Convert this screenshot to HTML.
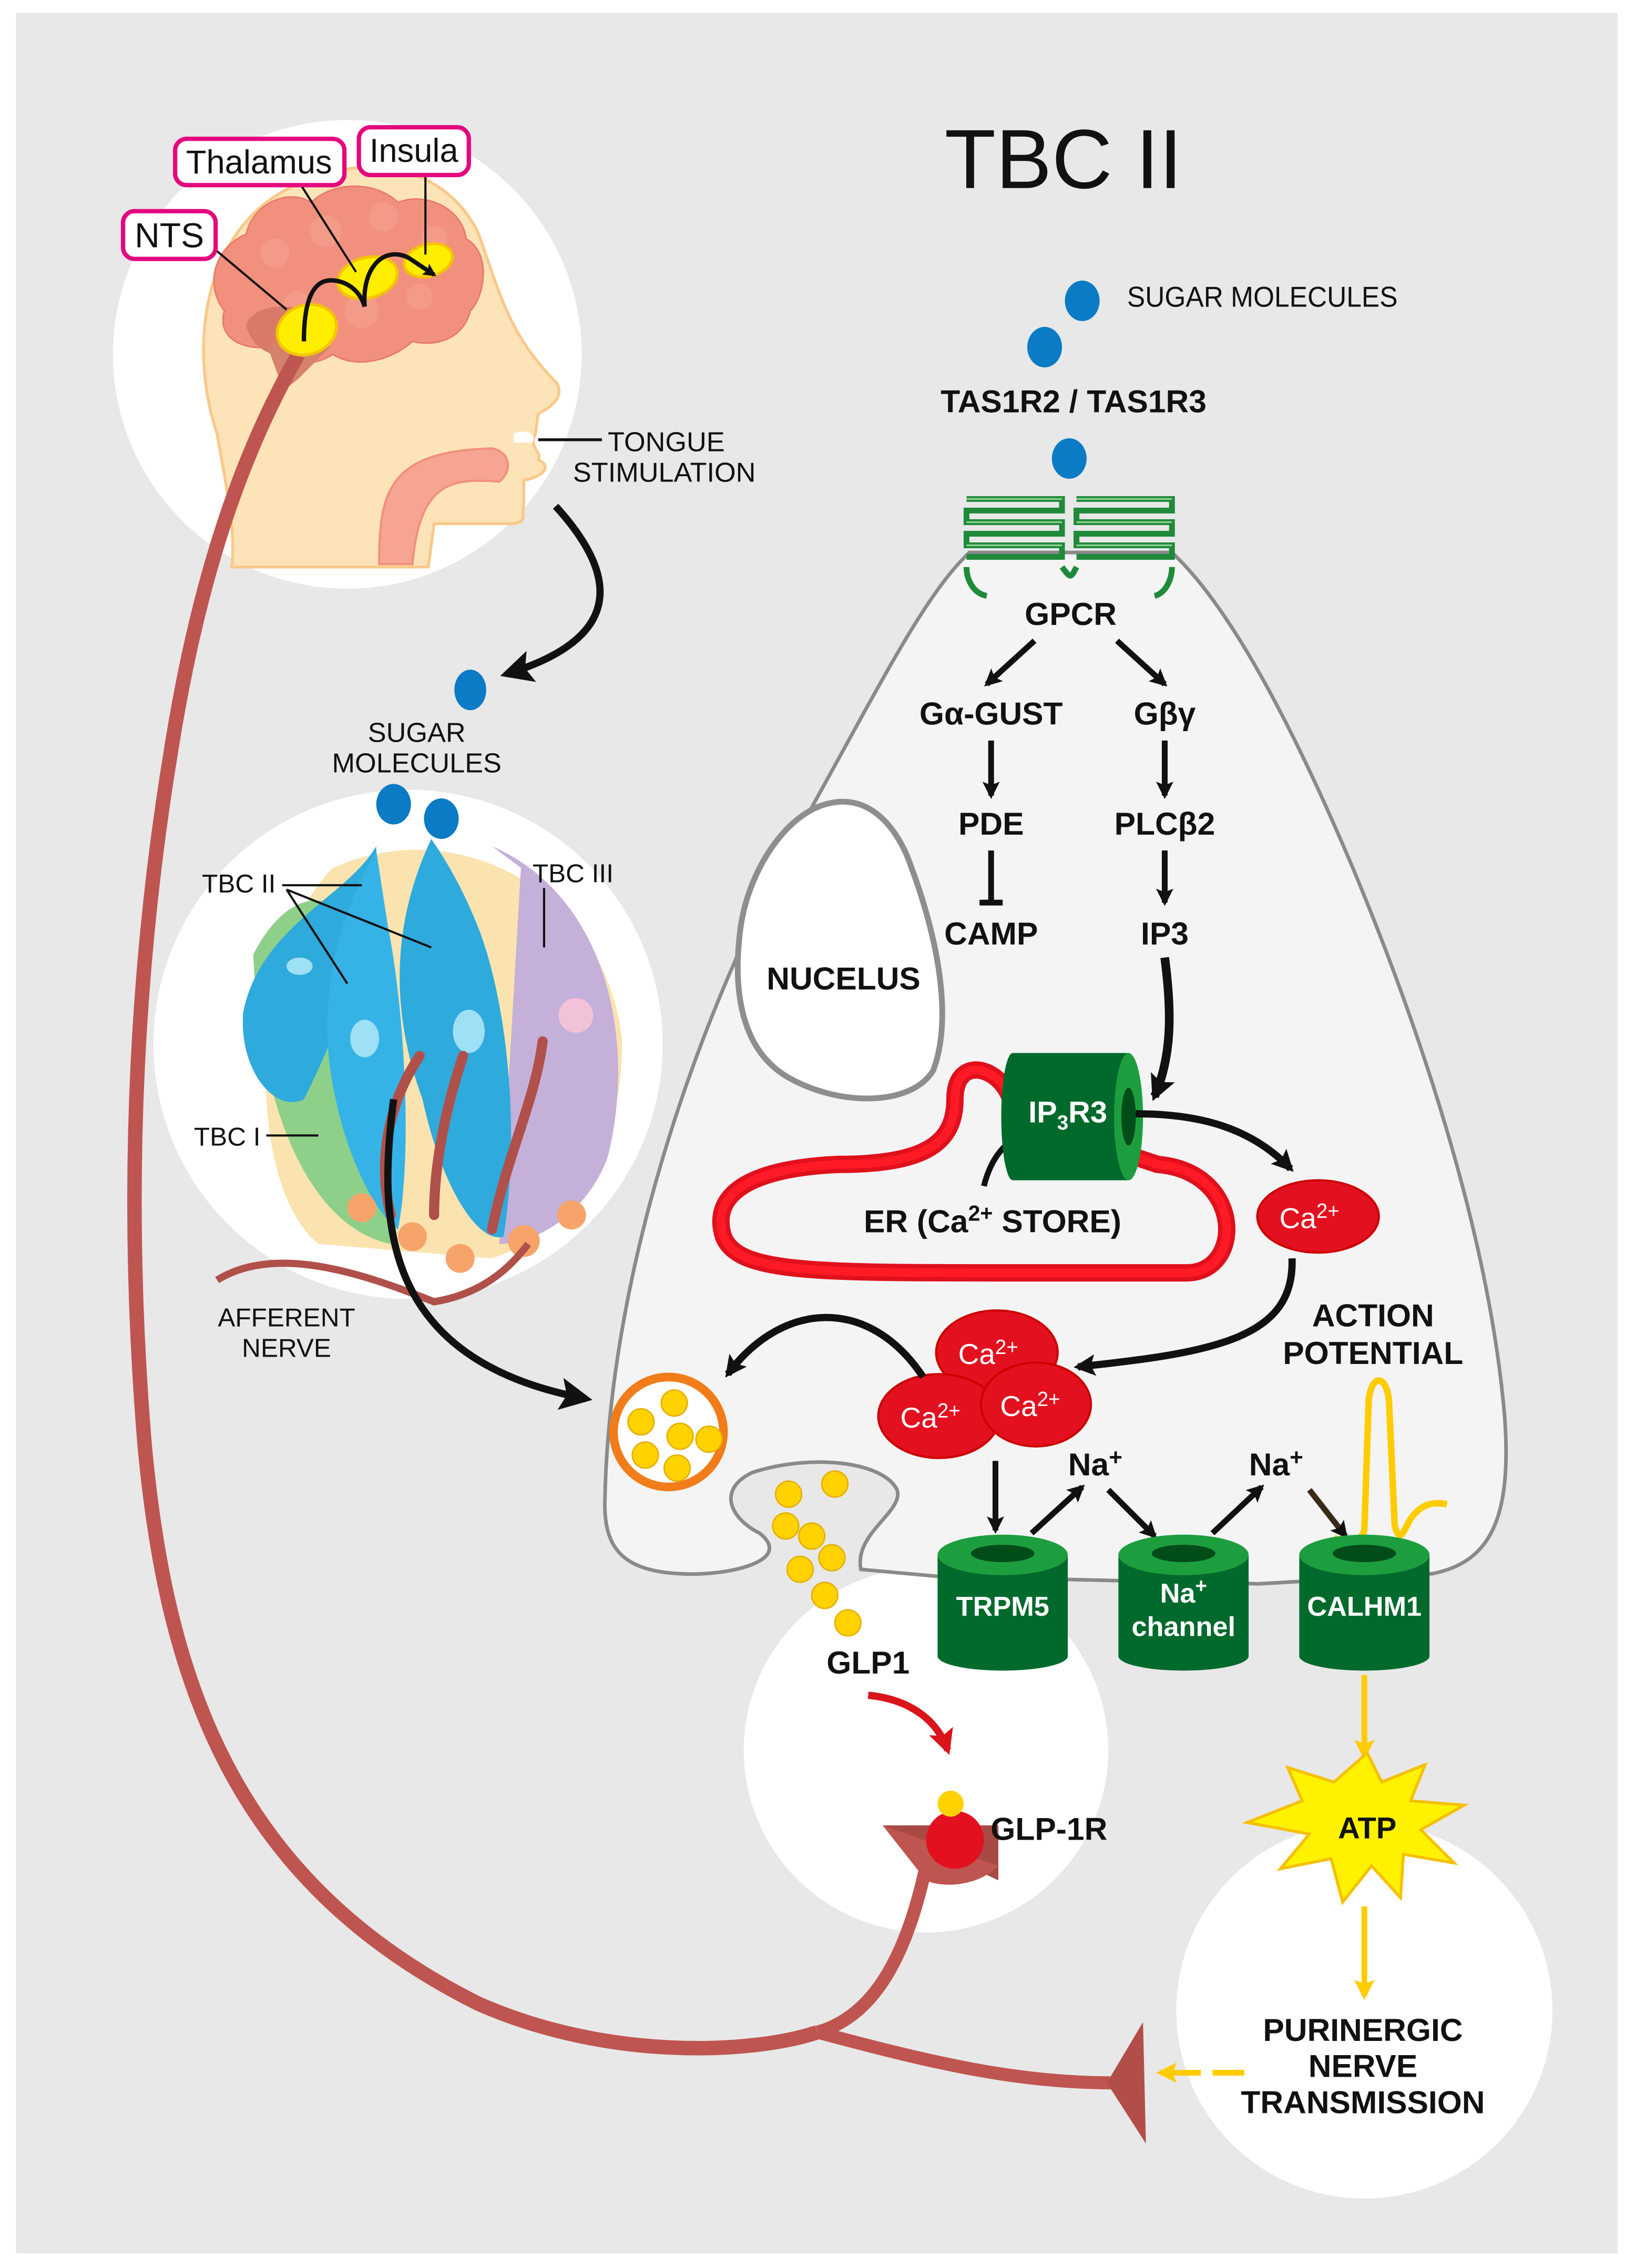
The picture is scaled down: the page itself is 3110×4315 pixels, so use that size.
<!DOCTYPE html>
<html><head><meta charset="utf-8"><style>
html,body{margin:0;padding:0;background:#fff}
svg{display:block}
text{font-family:"Liberation Sans",sans-serif}
</style></head><body>
<svg width="3110" height="4315" viewBox="0 0 1130 1568" xmlns="http://www.w3.org/2000/svg">
<defs>
<marker id="ah" viewBox="0 0 10 10" refX="8" refY="5" markerWidth="4.5" markerHeight="4.5" orient="auto"><path d="M0,0L10,5L0,10L2,5z" fill="#111"/></marker>
<marker id="ahb" viewBox="0 0 10 10" refX="8" refY="5" markerWidth="3" markerHeight="3" orient="auto"><path d="M0,0L10,5L0,10L2,5z" fill="#111"/></marker>
<marker id="ahy" viewBox="0 0 10 10" refX="8" refY="5" markerWidth="3.5" markerHeight="3.5" orient="auto"><path d="M0,0L10,5L0,10L2,5z" fill="#ffcc00"/></marker>
<marker id="ahr" viewBox="0 0 10 10" refX="8" refY="5" markerWidth="3.5" markerHeight="3.5" orient="auto"><path d="M0,0L10,5L0,10L2,5z" fill="#d9141b"/></marker>
</defs>
<rect width="1130" height="1568" fill="#fff"/>
<rect x="11" y="9" width="1107" height="1549" fill="#e8e8e8"/>

<circle cx="240" cy="245" r="162" fill="#fff"/>
<circle cx="282" cy="722" r="176" fill="#fff"/>
<circle cx="640" cy="1210" r="126" fill="#fff"/>
<circle cx="943" cy="1390" r="130" fill="#fff"/>

<path d="M150,300 C130,240 140,160 200,130 C260,100 310,120 330,160 C345,200 350,230 385,265 C390,275 380,282 372,286 L370,300 C365,310 375,312 372,318 C382,322 375,330 362,332 L362,348 C360,358 365,360 355,362 L300,362 L296,392 L160,392 C163,370 158,345 150,300 Z" fill="#fde3b8" stroke="#f9c98a" stroke-width="2"/>
<path d="M262,390 C262,340 268,312 340,310 C352,312 355,325 345,333 C310,330 290,335 285,390 Z" fill="#f6a592" stroke="#f0907c" stroke-width="1.5"/>
<path d="M355,300 C362,296 372,300 368,306 L355,306 Z" fill="#fff"/>
<path d="M155,215 C140,195 150,170 170,162 C175,140 200,130 215,140 C230,125 260,125 275,140 C295,132 320,145 322,165 C340,175 335,205 325,215 C320,235 300,240 285,236 C270,250 245,255 230,245 C215,255 195,252 185,240 C165,242 150,232 155,215 Z" fill="#f2907e" stroke="#e7796a" stroke-width="1"/>
<g fill="#f49d8b" opacity="0.8"><circle cx="190" cy="175" r="10"/><circle cx="225" cy="160" r="11"/><circle cx="265" cy="150" r="10"/><circle cx="300" cy="165" r="9"/><circle cx="250" cy="215" r="12"/><circle cx="290" cy="205" r="9"/><circle cx="205" cy="210" r="9"/></g>
<path d="M170,225 C175,210 200,210 215,215 L215,245 C195,250 175,245 170,225 Z" fill="#d87a68"/>
<path d="M185,240 L210,228 L228,240 L206,262 L196,270 Z" fill="#d4826b"/>
<path d="M206,245 C175,300 140,380 118,520 C95,660 85,820 100,1000 C115,1160 160,1300 330,1385 C420,1425 520,1420 565,1405" fill="none" stroke="#bf5550" stroke-width="10"/>
<path d="M565,1405 C600,1395 625,1360 640,1290" fill="none" stroke="#bf5550" stroke-width="9"/>
<path d="M565,1405 C640,1425 700,1440 770,1440" fill="none" stroke="#bf5550" stroke-width="9"/>
<path d="M610,1262 L690,1262 L690,1300 Z" fill="#a84a44"/>
<path d="M610,1262 L690,1290 C675,1305 650,1305 640,1300 Z" fill="#bf5550"/>
<path d="M765,1440 L790,1398 L792,1482 Z" fill="#b24e49"/>
<ellipse cx="212" cy="228" rx="21" ry="17" fill="#ffee00" stroke="#f5c400" stroke-width="2" transform="rotate(-20 212 228)"/>
<ellipse cx="254" cy="192" rx="21" ry="14" fill="#ffee00" stroke="#f5c400" stroke-width="2" transform="rotate(-15 254 192)"/>
<ellipse cx="296" cy="180" rx="17" ry="11" fill="#ffee00" stroke="#f5c400" stroke-width="2" transform="rotate(-15 296 180)"/>
<path d="M210,236 C210,200 220,190 236,195 C245,198 250,205 252,212" fill="none" stroke="#111" stroke-width="3"/>
<path d="M252,212 C250,185 265,170 282,178 L300,190" fill="none" stroke="#111" stroke-width="3" marker-end="url(#ahb)"/>
<line x1="148" y1="172" x2="198" y2="214" stroke="#111" stroke-width="1.5"/>
<line x1="208" y1="128" x2="246" y2="188" stroke="#111" stroke-width="1.5"/>
<line x1="294" y1="122" x2="294" y2="176" stroke="#111" stroke-width="1.5"/>
<rect x="85" y="146" width="64" height="33" rx="8" fill="#fff" stroke="#e3087e" stroke-width="3"/>
<text x="117" y="171" font-size="24" text-anchor="middle" fill="#111">NTS</text>
<rect x="121" y="96" width="117" height="32" rx="8" fill="#fff" stroke="#e3087e" stroke-width="3"/>
<text x="179" y="120" font-size="23" text-anchor="middle" fill="#111">Thalamus</text>
<rect x="248" y="88" width="76" height="33" rx="8" fill="#fff" stroke="#e3087e" stroke-width="3"/>
<text x="286" y="112" font-size="23" text-anchor="middle" fill="#111">Insula</text>

<text x="735" y="130" font-size="58" text-anchor="middle" fill="#111">TBC II</text>

<line x1="372" y1="304" x2="416" y2="304" stroke="#111" stroke-width="2"/>
<text x="420" y="312" font-size="19" fill="#111">TONGUE</text>
<text x="396" y="333" font-size="19" fill="#111">STIMULATION</text>
<path d="M384,350 C425,395 435,440 350,466" fill="none" stroke="#111" stroke-width="5" marker-end="url(#ah)"/>
<ellipse cx="325" cy="477" rx="11" ry="14" fill="#0a7bc4"/>
<text x="288" y="513" font-size="19" text-anchor="middle" fill="#111">SUGAR</text>
<text x="288" y="534" font-size="19" text-anchor="middle" fill="#111">MOLECULES</text>
<ellipse cx="272" cy="556" rx="12" ry="14" fill="#0a7bc4"/>
<ellipse cx="305" cy="566" rx="12" ry="14" fill="#0a7bc4"/>

<path d="M230,600 C320,560 420,620 430,720 C430,790 400,850 340,870 L220,860 C170,820 170,660 230,600 Z" fill="#fbe3b0"/>
<path d="M340,585 C420,620 440,720 420,800 C405,840 370,860 345,860 L360,600 Z" fill="#c4b0d8"/>
<circle cx="398" cy="702" r="12" fill="#f2c2d8"/>
<path d="M175,660 C200,610 240,610 250,660 L270,860 C220,850 180,780 175,660 Z" fill="#8ed08a"/>
<circle cx="202" cy="750" r="11" fill="#e8f0c0"/>
<path d="M260,585 C240,620 180,640 168,700 C165,740 190,770 210,760 C240,700 260,640 260,585 Z" fill="#2eaadc"/>
<path d="M260,588 C230,640 218,700 232,760 C240,800 260,840 275,850 C285,800 280,700 268,640 Z" fill="#36b3e6"/>
<path d="M298,580 C270,640 270,700 292,760 C305,820 330,860 348,855 C360,780 350,690 330,640 C318,610 305,590 298,580 Z" fill="#2eaadc"/>
<ellipse cx="207" cy="668" rx="9" ry="6" fill="#9ee0f5"/>
<ellipse cx="252" cy="718" rx="10" ry="13" fill="#9ee0f5"/>
<ellipse cx="324" cy="713" rx="11" ry="15" fill="#9ee0f5"/>
<g fill="none" stroke="#b0504a" stroke-width="7" stroke-linecap="round">
<path d="M270,840 C260,800 270,760 290,730"/>
<path d="M300,840 C300,800 310,760 320,730"/>
<path d="M340,850 C350,800 370,760 375,720"/>
</g>
<g fill="#f7a46a"><circle cx="250" cy="835" r="10"/><circle cx="285" cy="855" r="10"/><circle cx="318" cy="870" r="10"/><circle cx="362" cy="858" r="11"/><circle cx="395" cy="840" r="10"/></g>
<path d="M150,885 C190,860 250,880 300,900 C330,895 350,880 365,860" fill="none" stroke="#b0504a" stroke-width="5"/>
<line x1="198" y1="615" x2="240" y2="680" stroke="#111" stroke-width="1.5"/>
<line x1="198" y1="615" x2="298" y2="655" stroke="#111" stroke-width="1.5"/>
<line x1="195" y1="612" x2="250" y2="612" stroke="#111" stroke-width="1.5"/>
<line x1="376" y1="614" x2="376" y2="655" stroke="#111" stroke-width="1.5"/>
<line x1="184" y1="785" x2="220" y2="785" stroke="#111" stroke-width="1.5"/>
<text x="165" y="617" font-size="18" text-anchor="middle" fill="#111">TBC II</text>
<text x="396" y="610" font-size="18" text-anchor="middle" fill="#111">TBC III</text>
<text x="157" y="792" font-size="18" text-anchor="middle" fill="#111">TBC I</text>
<text x="198" y="917" font-size="18" text-anchor="middle" fill="#111">AFFERENT</text>
<text x="198" y="938" font-size="18" text-anchor="middle" fill="#111">NERVE</text>
<path d="M272,760 C262,840 260,940 405,967" fill="none" stroke="#111" stroke-width="5" marker-end="url(#ah)"/>

<path d="M418,1040 C420,900 470,720 560,560 C610,470 640,410 670,382 L810,382 C840,410 880,470 935,600 C985,720 1030,860 1040,980 C1045,1050 1030,1080 990,1088 L870,1095 L650,1090 L595,1085 C590,1060 625,1045 620,1030 C610,1010 560,1005 520,1018 C495,1030 505,1050 525,1060 C550,1080 500,1090 470,1088 C430,1086 418,1070 418,1040 Z" fill="#f4f4f4" stroke="#8a8a8a" stroke-width="2.5"/>

<g fill="none" stroke="#1e8a3a" stroke-width="4">
<path d="M668,345 H734 V353 H668 V361 H734 V369 H668 V377 H734 V385 H668 M668,392 C668,400 672,410 682,412"/>
<path d="M744,345 H810 V353 H744 V361 H810 V369 H744 V377 H810 V385 H744 M810,392 C810,400 806,410 798,412"/>
<path d="M734,392 C740,400 740,400 744,392"/>
</g>
<g fill="none" stroke="#8fd18f" stroke-width="1.2">
<path d="M668,345 H734 M668,361 H734 M668,377 H734 M744,345 H810 M744,361 H810 M744,377 H810"/>
</g>
<ellipse cx="748" cy="208" rx="12" ry="14" fill="#0a7bc4"/>
<ellipse cx="722" cy="240" rx="12" ry="14" fill="#0a7bc4"/>
<ellipse cx="739" cy="317" rx="12" ry="14" fill="#0a7bc4"/>
<text x="779" y="212" font-size="20" fill="#111" textLength="187" lengthAdjust="spacingAndGlyphs">SUGAR MOLECULES</text>

<path d="M575,555 C600,550 620,570 630,600 C645,640 660,700 645,740 C630,765 580,765 545,745 C515,728 505,690 512,640 C518,600 545,560 575,555 Z" fill="#fff" stroke="#8e8e8e" stroke-width="4"/>

<g font-size="22" font-weight="bold" text-anchor="middle" fill="#111">
<text x="742" y="285">TAS1R2 / TAS1R3</text>
<text x="740" y="432">GPCR</text>
<text x="685" y="501">Gα-GUST</text>
<text x="805" y="501">Gβγ</text>
<text x="685" y="577">PDE</text>
<text x="805" y="577">PLCβ2</text>
<text x="685" y="653">CAMP</text>
<text x="805" y="653">IP3</text>
<text x="583" y="684">NUCELUS</text>
<text x="686" y="852">ER (Ca<tspan font-size="15" dy="-8">2+</tspan><tspan dy="8"> STORE)</tspan></text>
<text x="949" y="917">ACTION</text>
<text x="949" y="943">POTENTIAL</text>
<text x="757" y="1020">Na<tspan font-size="16" dy="-7">+</tspan></text>
<text x="882" y="1020">Na<tspan font-size="16" dy="-7">+</tspan></text>
<text x="600" y="1157">GLP1</text>
<text x="725" y="1272">GLP-1R</text>
<text x="942" y="1411">PURINERGIC</text>
<text x="942" y="1436">NERVE</text>
<text x="942" y="1461">TRANSMISSION</text>
</g>
<g stroke="#111" stroke-width="4" fill="none">
<line x1="715" y1="443" x2="682" y2="473" marker-end="url(#ahb)"/>
<line x1="772" y1="443" x2="805" y2="473" marker-end="url(#ahb)"/>
<line x1="685" y1="512" x2="685" y2="550" marker-end="url(#ahb)"/>
<line x1="805" y1="512" x2="805" y2="550" marker-end="url(#ahb)"/>
<line x1="685" y1="588" x2="685" y2="624"/>
<line x1="677" y1="624" x2="693" y2="624"/>
<line x1="805" y1="588" x2="805" y2="624" marker-end="url(#ahb)"/>
<path d="M805,662 C810,700 810,730 798,758" stroke-width="6" marker-end="url(#ahb)"/>
</g>

<path d="M700,770 C700,740 660,725 660,760 C660,790 640,805 580,805 C510,808 492,830 500,855 C510,880 560,880 700,880 L820,880 C860,880 860,810 800,805 L785,800" fill="none" stroke="#e0101c" stroke-width="12"/>
<path d="M700,770 C700,740 660,725 660,760 C660,790 640,805 580,805 C510,808 492,830 500,855 C510,880 560,880 700,880 L820,880 C860,880 860,810 800,805 L785,800" fill="none" stroke="#ff1a25" stroke-width="6"/>
<path d="M680,820 C685,800 695,790 705,785" fill="none" stroke="#111" stroke-width="4"/>
<rect x="700" y="728" width="80" height="88" fill="#006a2c"/>
<ellipse cx="780" cy="772" rx="10" ry="44" fill="#1d9e3e"/>
<ellipse cx="780" cy="772" rx="5" ry="20" fill="#004d1a"/>
<ellipse cx="700" cy="772" rx="8" ry="44" fill="#006a2c"/>
<text x="738" y="776" font-size="21" font-weight="bold" fill="#fff" text-anchor="middle">IP<tspan font-size="14" dy="5">3</tspan><tspan dy="-5">R3</tspan></text>
<path d="M785,770 C830,770 865,780 892,808" fill="none" stroke="#111" stroke-width="5" marker-end="url(#ahb)"/>
<ellipse cx="911" cy="841" rx="42" ry="25" fill="#e3101f" stroke="#c00" stroke-width="1.5"/>
<text x="905" y="849" font-size="20" fill="#fff" text-anchor="middle">Ca<tspan font-size="14" dy="-7">2+</tspan></text>
<path d="M893,870 C895,925 840,935 745,945" fill="none" stroke="#111" stroke-width="5" marker-end="url(#ahb)"/>
<g fill="#e3101f" stroke="#c00" stroke-width="1.5">
<ellipse cx="689" cy="935" rx="42" ry="29"/>
<ellipse cx="649" cy="979" rx="42" ry="29"/>
<ellipse cx="716" cy="971" rx="38" ry="29"/>
</g>
<g font-size="20" fill="#fff" text-anchor="middle">
<text x="683" y="943">Ca<tspan font-size="14" dy="-7">2+</tspan></text>
<text x="643" y="987">Ca<tspan font-size="14" dy="-7">2+</tspan></text>
<text x="712" y="979">Ca<tspan font-size="14" dy="-7">2+</tspan></text>
</g>
<path d="M638,952 C600,895 540,900 503,950" fill="none" stroke="#111" stroke-width="5" marker-end="url(#ahb)"/>
<circle cx="462" cy="990" r="38" fill="#fff" stroke="#f07d1a" stroke-width="6"/>
<g fill="#ffd200" stroke="#e6b000"><circle cx="443" cy="983" r="9"/><circle cx="466" cy="970" r="9"/><circle cx="470" cy="993" r="9"/><circle cx="490" cy="995" r="9"/><circle cx="446" cy="1006" r="9"/><circle cx="468" cy="1015" r="9"/></g>
<g fill="#ffd200" stroke="#e6b000"><circle cx="545" cy="1033" r="9"/><circle cx="577" cy="1026" r="9"/><circle cx="543" cy="1055" r="9"/><circle cx="561" cy="1062" r="9"/><circle cx="575" cy="1077" r="9"/><circle cx="553" cy="1085" r="9"/><circle cx="570" cy="1103" r="9"/><circle cx="586" cy="1122" r="9"/></g>
<path d="M600,1172 C630,1175 648,1190 655,1210" fill="none" stroke="#d9141b" stroke-width="5" marker-end="url(#ahr)"/>
<circle cx="660" cy="1272" r="20" fill="#e3101f"/>
<circle cx="657" cy="1247" r="9" fill="#ffd200"/>

<g stroke="#111" stroke-width="4" fill="none">
<line x1="688" y1="1010" x2="688" y2="1058" marker-end="url(#ahb)"/>
<line x1="713" y1="1060" x2="748" y2="1028" marker-end="url(#ahb)"/>
<line x1="766" y1="1030" x2="798" y2="1062" marker-end="url(#ahb)"/>
<line x1="838" y1="1060" x2="872" y2="1028" marker-end="url(#ahb)"/>
<line x1="905" y1="1030" x2="930" y2="1062" stroke="#3a2a18" marker-end="url(#ahb)"/>
</g>
<path d="M922,1063 C930,1068 940,1068 943,1058 L946,968 C948,950 958,950 960,968 L964,1055 C968,1068 970,1058 975,1050 C982,1040 990,1038 1000,1040" fill="none" stroke="#ffcc00" stroke-width="4.5"/>

<g>
<rect x="648" y="1075" width="90" height="70" fill="#006a2c"/><ellipse cx="693" cy="1145" rx="45" ry="10" fill="#006a2c"/><ellipse cx="693" cy="1075" rx="45" ry="14" fill="#1d9e3e"/><ellipse cx="693" cy="1074" rx="22" ry="6" fill="#004d1a"/>
<rect x="773" y="1075" width="90" height="70" fill="#006a2c"/><ellipse cx="818" cy="1145" rx="45" ry="10" fill="#006a2c"/><ellipse cx="818" cy="1075" rx="45" ry="14" fill="#1d9e3e"/><ellipse cx="818" cy="1074" rx="22" ry="6" fill="#004d1a"/>
<rect x="898" y="1075" width="90" height="70" fill="#006a2c"/><ellipse cx="943" cy="1145" rx="45" ry="10" fill="#006a2c"/><ellipse cx="943" cy="1075" rx="45" ry="14" fill="#1d9e3e"/><ellipse cx="943" cy="1074" rx="22" ry="6" fill="#004d1a"/>
</g>
<g font-size="19" font-weight="bold" fill="#fff" text-anchor="middle">
<text x="693" y="1117">TRPM5</text>
<text x="818" y="1108">Na<tspan font-size="14" dy="-7">+</tspan></text>
<text x="818" y="1131">channel</text>
<text x="943" y="1117">CALHM1</text>
</g>
<line x1="943" y1="1158" x2="943" y2="1214" stroke="#ffcc00" stroke-width="4" marker-end="url(#ahy)"/>
<polygon points="945,1212 955,1232 985,1220 975,1245 1012,1248 982,1265 1005,1288 970,1282 968,1312 948,1290 928,1315 920,1285 885,1292 905,1268 862,1260 900,1245 890,1222 922,1232" fill="#fff200" stroke="#f5c000" stroke-width="2"/>
<text x="945" y="1271" font-size="21" font-weight="bold" text-anchor="middle" fill="#111">ATP</text>
<line x1="943" y1="1318" x2="943" y2="1380" stroke="#ffcc00" stroke-width="4" marker-end="url(#ahy)"/>
<line x1="860" y1="1433" x2="838" y2="1433" stroke="#ffcc00" stroke-width="4"/>
<line x1="830" y1="1433" x2="802" y2="1433" stroke="#ffcc00" stroke-width="4" marker-end="url(#ahy)"/>
</svg>
</body></html>
